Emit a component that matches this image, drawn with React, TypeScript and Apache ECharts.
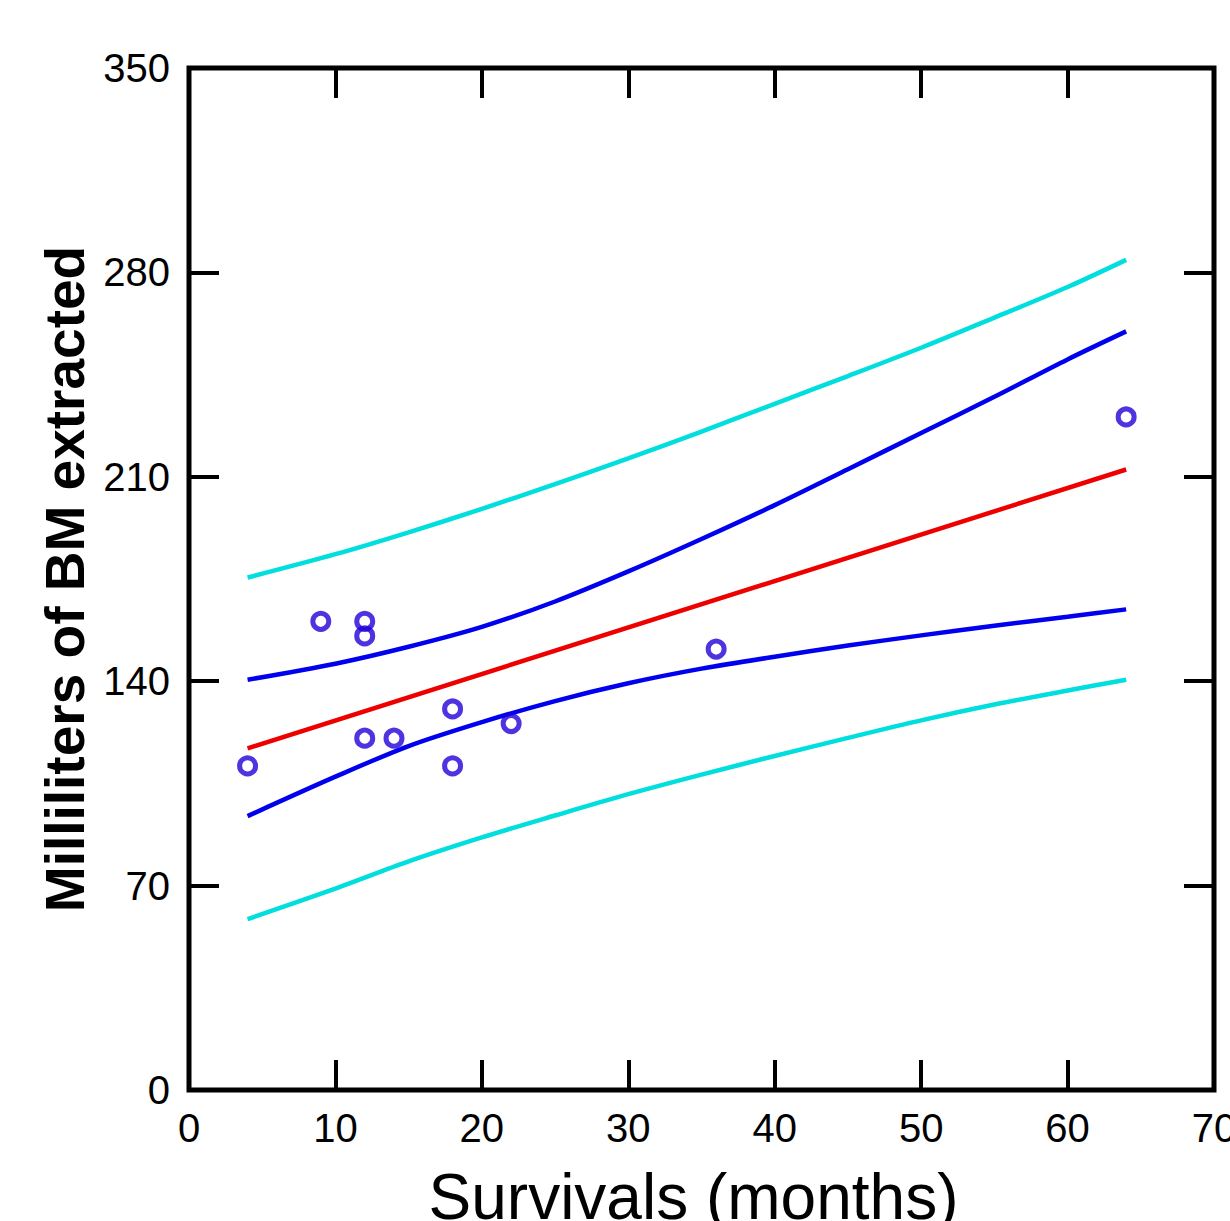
import React, { useEffect, useRef } from "react";
import * as echarts from "echarts";

// Observed data points (Survival in months, mL of BM extracted)
const pointX = [4, 9, 12, 12, 12, 14, 18, 18, 22, 36, 64];
const pointY = [111, 160.5, 160.5, 155.5, 120.5, 120.5, 130.5, 111, 125.5, 151, 230.5];

// Regression line end points
const fitX = [4, 64];
const fitY = [117, 212.5];

// Band curves sampled along x
const bandX = [4, 10, 15, 20, 25, 30, 35, 40, 45, 50, 55, 60, 64];
const confUpper = [140.5, 146, 151.8, 158.6, 167.3, 177.6, 188.7, 200.3, 212.6, 225, 237.4, 250.2, 259.8];
const confLower = [93.8, 107.3, 117.8, 126, 133.2, 139.3, 144.3, 148.4, 152.2, 155.7, 159, 162.1, 164.6];
const predUpper = [175.5, 183.5, 191, 199, 207.5, 216.3, 225.5, 235, 244.5, 254.2, 264.5, 275, 284.3];
const predLower = [58.5, 69, 78.3, 86.5, 94, 101.3, 108, 114.4, 120.6, 126.6, 132, 136.8, 140.5];

const xTicks = { min: 0, max: 70, interval: 10 };
const yTicks = { min: 0, max: 350, interval: 70 };

const zip = (xs: number[], ys: number[]) => xs.map((x, i) => [x, ys[i]]);

const FONT = "Liberation Sans";

export default function App() {
  const ref = useRef<HTMLDivElement>(null);

  useEffect(() => {
    const chart = echarts.init(ref.current!, null, { renderer: "svg" });

    const tick = () => ({ inside: true, length: 30, lineStyle: { color: "#000", width: 4 } });
    const noLine = () => ({ show: false, onZero: false });
    const labelStyle = { color: "#000", fontSize: 40, fontFamily: FONT };

    const lineSeries = (data: number[][], color: string) => ({
      type: "line",
      data,
      showSymbol: false,
      smooth: 0.3,
      lineStyle: { color, width: 4.5 },
      silent: true,
    });

    chart.setOption({
      animation: false,
      backgroundColor: "#fff",
      grid: {
        left: 189,
        right: 16,
        top: 68,
        bottom: 131,
        show: true,
        borderColor: "#000",
        borderWidth: 5,
        backgroundColor: "transparent",
        outerBoundsMode: "none",
        containLabel: false,
      },
      xAxis: [
        {
          type: "value",
          position: "bottom",
          ...xTicks,
          axisLine: noLine(),
          axisTick: tick(),
          splitLine: { show: false },
          axisLabel: { ...labelStyle, margin: 18 },
          name: "Survivals (months)",
          nameLocation: "middle",
          nameGap: 75,
          nameTextStyle: { color: "#000", fontSize: 64, fontFamily: FONT, padding: [0, 16, 0, 0] },
        },
        {
          type: "value",
          position: "top",
          ...xTicks,
          axisLine: noLine(),
          axisTick: tick(),
          splitLine: { show: false },
          axisLabel: { show: false },
        },
      ],
      yAxis: [
        {
          type: "value",
          position: "left",
          ...yTicks,
          axisLine: noLine(),
          axisTick: tick(),
          splitLine: { show: false },
          axisLabel: { ...labelStyle, margin: 19 },
          name: "Milliliters of BM extracted",
          nameLocation: "middle",
          nameGap: 81,
          nameTextStyle: { color: "#000", fontSize: 55, fontWeight: "bold", fontFamily: FONT },
        },
        {
          type: "value",
          position: "right",
          ...yTicks,
          axisLine: noLine(),
          axisTick: tick(),
          splitLine: { show: false },
          axisLabel: { show: false },
        },
      ],
      series: [
        lineSeries(zip(bandX, predUpper), "#00dede"),
        lineSeries(zip(bandX, predLower), "#00dede"),
        lineSeries(zip(bandX, confUpper), "#0000ee"),
        lineSeries(zip(bandX, confLower), "#0000ee"),
        lineSeries(zip(fitX, fitY), "#ee0000"),
        {
          type: "scatter",
          data: zip(pointX, pointY),
          symbol: "circle",
          symbolSize: 16,
          itemStyle: { color: "rgba(0,0,0,0)", borderColor: "#2200d8", borderWidth: 5 },
          z: 10,
        },
      ],
    });

    return () => chart.dispose();
  }, []);

  return (
    <div
      ref={ref}
      style={{ position: "fixed", left: 0, top: 0, width: 1230, height: 1221, background: "#fff" }}
    />
  );
}
